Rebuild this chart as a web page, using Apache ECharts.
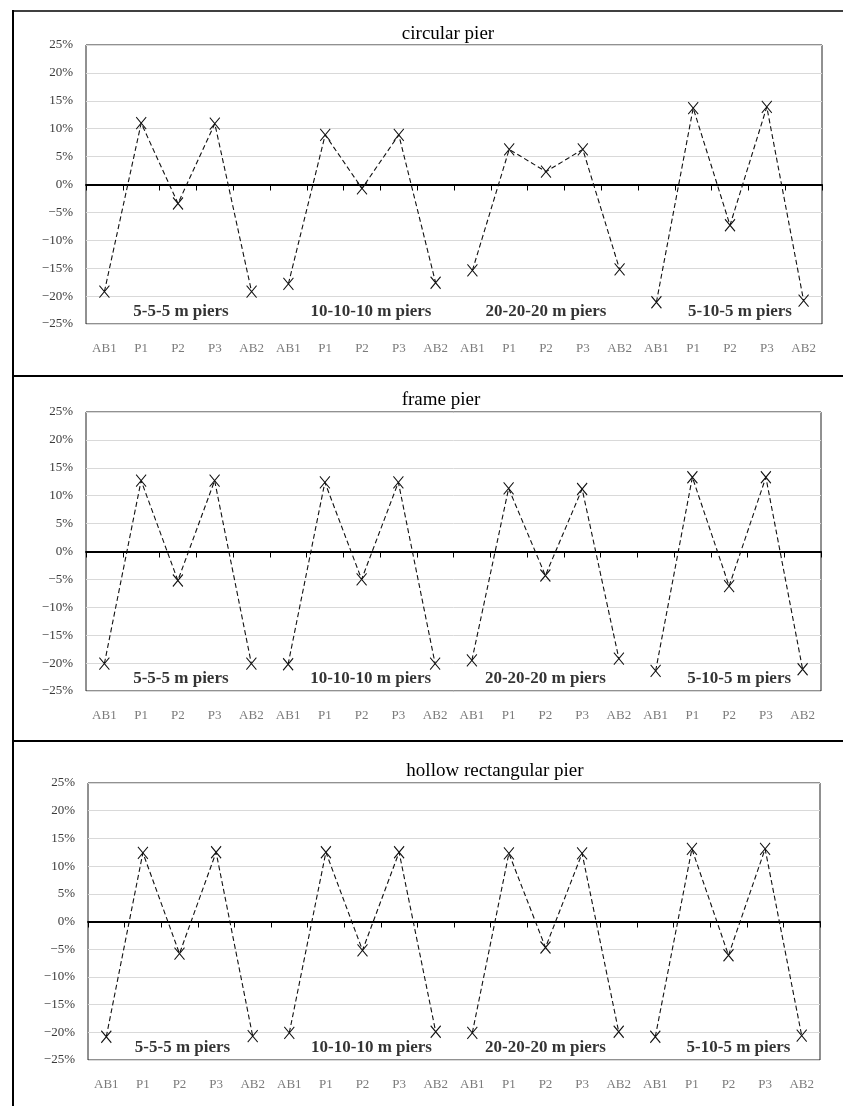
<!DOCTYPE html>
<html><head><meta charset="utf-8">
<script src="https://cdn.jsdelivr.net/npm/echarts@6/dist/echarts.min.js"></script>
<style>html,body{margin:0;padding:0;background:#fff}#c{width:843px;height:1106px}</style>
</head><body><div id="c"></div>
<script>
const categories = ['AB1','P1','P2','P3','AB2','AB1','P1','P2','P3','AB2','AB1','P1','P2','P3','AB2','AB1','P1','P2','P3','AB2'];
const groupLabels = ['5-5-5 m piers','10-10-10 m piers','20-20-20 m piers','5-10-5 m piers'];
const panelTitles = ['circular pier','frame pier','hollow rectangular pier'];
const yTicks = [-25,-20,-15,-10,-5,0,5,10,15,20,25];
const circularPier = [-19.2,11.0,-3.4,10.9,-19.2, -17.8,8.9,-0.7,8.9,-17.6, -15.4,6.3,2.3,6.3,-15.2, -21.1,13.7,-7.3,13.9,-20.8];
const framePier = [-20.1,12.7,-5.2,12.7,-20.1, -20.2,12.4,-5.0,12.4,-20.1, -19.5,11.3,-4.3,11.2,-19.2, -21.4,13.3,-6.2,13.3,-21.1];
const hollowPier = [-20.8,12.4,-5.8,12.5,-20.7, -20.1,12.5,-5.2,12.5,-19.9, -20.1,12.3,-4.7,12.3,-19.9, -20.8,13.1,-6.1,13.1,-20.6];
const panelData = [circularPier, framePier, hollowPier];

const grids = [
  {left:86, right:21, top:45, height:279},
  {left:86, right:22, top:412, height:279},
  {left:88, right:23, top:783, height:277}
];
const titlePos = [{x:443,y:31},{x:436,y:397},{x:490,y:768}];
const labelOffsets = [[3,0],[9,0],[0,0],[10,0]];
const serif = '"Liberation Serif","DejaVu Serif",serif';
const xSym = 'path://M0,0L10,12M10,0L0,12';

const option = {
  animation:false,
  backgroundColor:'#fff',
  title: panelTitles.map((t,i)=>({text:t,left:titlePos[i].x,top:titlePos[i].y-11,textAlign:'center',
    textStyle:{fontFamily:serif,fontWeight:'normal',fontSize:19,color:'#000'}})),
  grid: grids.map(g=>Object.assign({show:true,borderColor:'#222',borderWidth:1,backgroundColor:'transparent'},g)),
  xAxis:[], yAxis:[], series:[],
  graphic:[
    {type:'line',shape:{x1:13,y1:10,x2:13,y2:1106},style:{stroke:'#000',lineWidth:2},silent:true},
    {type:'line',shape:{x1:13,y1:11,x2:843,y2:11},style:{stroke:'#000',lineWidth:1.5},silent:true},
    {type:'line',shape:{x1:13,y1:376,x2:843,y2:376},style:{stroke:'#000',lineWidth:2},silent:true},
    {type:'line',shape:{x1:13,y1:741,x2:843,y2:741},style:{stroke:'#000',lineWidth:2},silent:true}
  ]
};

panelData.forEach((vals,p)=>{
  option.xAxis.push({type:'category',gridIndex:p,data:categories,boundaryGap:true,
    axisLine:{onZero:true,lineStyle:{color:'#000',width:1.8}},
    axisTick:{show:true,length:6,lineStyle:{color:'#000',width:1}},
    axisLabel:{show:false},splitLine:{show:false}});
  option.xAxis.push({type:'category',gridIndex:p,data:categories,boundaryGap:true,position:'bottom',
    axisLine:{show:false,onZero:false},axisTick:{show:false},
    axisLabel:{show:true,margin:18,interval:0,fontFamily:serif,fontSize:13,color:'#7a7a7a'},splitLine:{show:false}});
  option.yAxis.push({type:'value',gridIndex:p,min:yTicks[0],max:yTicks[yTicks.length-1],interval:5,
    axisLine:{show:false},axisTick:{show:false},
    axisLabel:{margin:13,fontFamily:serif,fontSize:13,color:'#3a3a3a',
      formatter:v=>(v<0?'\u2212'+Math.abs(v):v)+'%'},
    splitLine:{show:true,lineStyle:{color:'#d9d9d9',width:1}}});
  for(let g=0; g<4; g++){
    const data = vals.map((v,i)=>(Math.floor(i/5)===g? v : '-'));
    option.series.push({type:'line',xAxisIndex:p*2,yAxisIndex:p,data:data,connectNulls:false,
      symbol:xSym,symbolSize:[10,12],showSymbol:true,
      itemStyle:{color:'rgba(0,0,0,0)',borderColor:'#111',borderWidth:1.1},
      lineStyle:{color:'#111',width:1.1,type:[5,3]},z:3});
  }
  option.series.push({type:'scatter',xAxisIndex:p*2,yAxisIndex:p,symbolSize:0,silent:true,z:5,
    data: groupLabels.map((t,g)=>({value:[categories.length/4*g+2, -22.8],name:t,
      label:{show:true,position:'inside',formatter:t,offset:labelOffsets[g],
        fontFamily:serif,fontWeight:'bold',fontSize:17,color:'#000'}}))});
});

const chart = echarts.init(document.getElementById('c'),null,{renderer:'canvas'});
chart.setOption(option);
</script></body></html>
